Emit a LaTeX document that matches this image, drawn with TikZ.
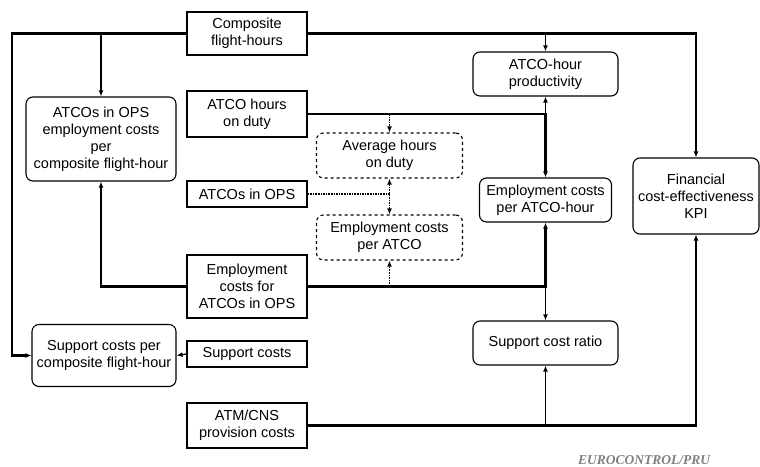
\documentclass[tikz,border=0pt]{standalone}
\usepackage{fontspec}
\setmainfont{Liberation Sans}
\newfontfamily\creditfont{Liberation Serif}
\usetikzlibrary{arrows.meta}
\definecolor{ink}{HTML}{000000}
\definecolor{creditgray}{HTML}{7F7F7F}

\tikzset{
  srcbox/.style={draw=ink,line width=1.1pt,rectangle,inner sep=0pt,align=center,
    font=\fontsize{14.5}{17}\selectfont},
  calcbox/.style={srcbox,rounded corners=7pt},
  helpbox/.style={calcbox,dashed},
  link/.style={draw=ink,line width=2.3pt,-{Latex[length=6pt,width=5pt]}},
  thinlink/.style={draw=ink,line width=1.3pt,-{Latex[length=6pt,width=5pt]}},
  helplink/.style={draw=ink,line width=1.6pt,densely dotted,-{Latex[length=6pt,width=5pt]}},
}

\begin{document}
\begin{tikzpicture}[x=1pt,y=-1pt]
      \useasboundingbox (0,0) rectangle (760,466);
      % input data
      \node[srcbox,minimum width=120,minimum height=43] (cfh) at (247,33.5) {Composite\\flight-hours};
      \node[srcbox,minimum width=120,minimum height=46] (ahd) at (247,114) {ATCO hours\\on duty};
      \node[srcbox,minimum width=120,minimum height=26] (aops) at (247,194) {ATCOs in OPS};
      \node[srcbox,minimum width=120,minimum height=63] (ecops) at (247,286.5) {Employment\\costs for\\ATCOs in OPS};
      \node[srcbox,minimum width=120,minimum height=26] (sc) at (247,354) {Support costs};
      \node[srcbox,minimum width=120,minimum height=45] (atm) at (247,425.5) {ATM/CNS\\provision costs};
      % indicators
      \node[calcbox,minimum width=150,minimum height=84] (ecfh) at (101,139) {ATCOs in OPS\\employment costs\\per\\composite flight-hour};
      \node[calcbox,minimum width=144,minimum height=62] (scfh) at (104,355.5) {Support costs per\\composite flight-hour};
      \node[helpbox,minimum width=146,minimum height=45] (avg) at (389.5,155.5) {Average hours\\on duty};
      \node[helpbox,minimum width=146,minimum height=45] (ecatco) at (389.5,237.5) {Employment costs\\per ATCO};
      \node[calcbox,minimum width=145,minimum height=44] (prod) at (545.5,74) {ATCO-hour\\productivity};
      \node[calcbox,minimum width=132,minimum height=44] (ecah) at (545.5,200) {Employment costs\\per ATCO-hour};
      \node[calcbox,minimum width=126,minimum height=76] (kpi) at (696,196) {Financial\\cost-effectiveness\\KPI};
      \node[calcbox,minimum width=145,minimum height=44] (scr) at (545.5,343) {Support cost ratio};
      \node[font=\creditfont\bfseries\itshape\fontsize{13.5}{15}\selectfont,text=creditgray] (credit) at (644,460) {EUROCONTROL/PRU};
      % composite flight-hours
      \coordinate (cfhleft) at (12,33.5);
      \draw[link] (cfh.west) -- (cfhleft) |- (scfh.west);
      \draw[link] (ecfh.north |- cfh.west) -- (ecfh.north);
      \draw[link] (cfh.east) -| (kpi.north);
      \draw[thinlink] (prod.north |- cfh.east) -- (prod.north);
      % ATCO hours on duty
      \coordinate (ahdjoin) at (ahd.east -| prod.south);
      \draw[link] (ahd.east) -- (ahdjoin) -- (ecah.north);
      \draw[thinlink] (ahdjoin) -- (prod.south);
      \draw[helplink] (avg.north |- ahd.east) -- (avg.north);
      % ATCOs in OPS
      \coordinate (aopsjoin) at (aops.east -| avg.south);
      \draw[helplink,-] (aops.east) -- (aopsjoin);
      \draw[helplink,{Latex[length=6pt,width=5pt]}-{Latex[length=6pt,width=5pt]}] (avg.south) -- (ecatco.north);
      % employment costs
      \coordinate (ecopsjoin) at (ecops.east -| ecah.south);
      \draw[link] (ecops.west) -| (ecfh.south);
      \draw[link] (ecops.east) -- (ecopsjoin) -- (ecah.south);
      \draw[thinlink] (ecopsjoin) -- (scr.north);
      \draw[helplink] (ecatco.south |- ecops.east) -- (ecatco.south);
      % support and ATM/CNS costs
      \draw[thinlink] (sc.west) -- (scfh.east);
      \draw[link] (atm.east) -| (kpi.south);
      \draw[thinlink] (scr.south |- atm.east) -- (scr.south);
    \end{tikzpicture}
\end{document}
